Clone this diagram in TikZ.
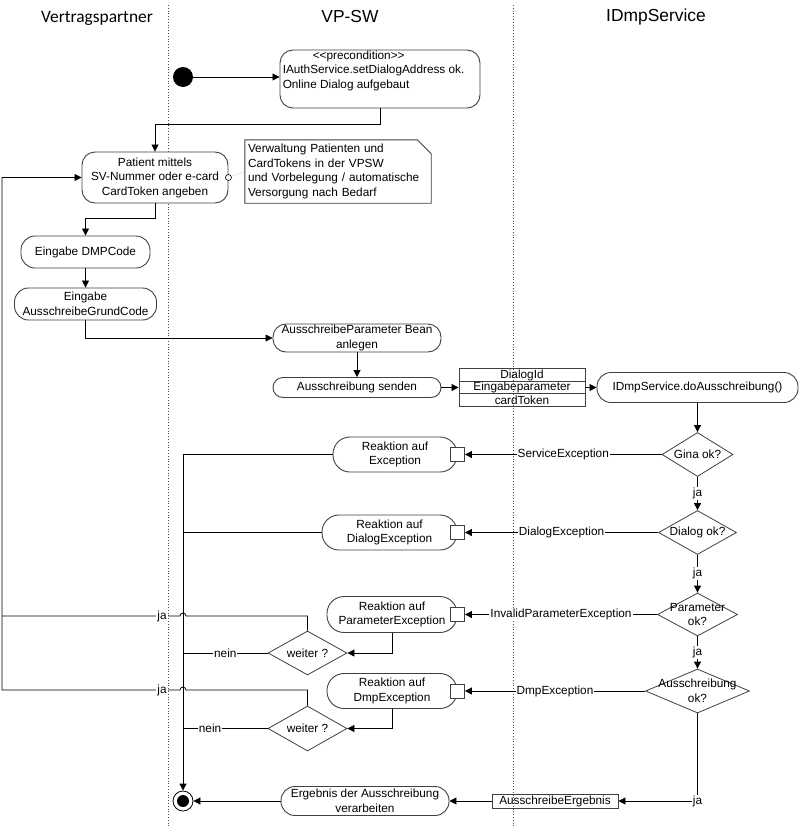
\documentclass[tikz,border=0pt]{standalone}
\usepackage{fontspec}
\setmainfont{Liberation Sans}
\newfontfamily\calibri{Carlito}
\usetikzlibrary{arrows.meta,shapes.geometric}

\begin{document}
\begin{tikzpicture}[
    x=1pt, y=-1pt,
    font=\fontsize{11.8}{14.5}\selectfont,
    >={Triangle[length=7pt,width=7pt]},
    action/.style={draw=black!75, line width=0.9pt, rounded corners=#1, fill=white, align=center, inner sep=1pt},
    action/.default=13pt,
    decision/.style={diamond, draw=black!75, line width=0.8pt, fill=white, inner sep=0pt},
    pin/.style={draw=black!75, line width=0.9pt, fill=white, minimum size=14pt, inner sep=0pt},
    objrow/.style={draw=black!75, line width=0.9pt, minimum width=126pt, minimum height=12.6pt, inner sep=0pt},
    flow/.style={->, line width=0.8pt},
    lbl/.style={fill=white, inner sep=1pt},
    lane/.style={dotted, line width=0.8pt, black!70},
    head/.style={font=\fontsize{17.4}{20}\selectfont}
]
\useasboundingbox (0,0) rectangle (799,838);

% Swimlanes
\draw[lane] (168,5) -- (168,826);
\draw[lane] (513,5) -- (513,826);
\node[font=\calibri\fontsize{17.4}{20}\selectfont] (hVP) at (97,18) {Vertragspartner};
\node[head] (hSW) at (350,17) {VP-SW};
\node[head] (hIDmp) at (656,17) {IDmpService};

% Aktionen
\node[circle, fill=black, minimum size=20pt, inner sep=0pt] (start) at (183,77) {};
\node[action, minimum width=200pt, minimum height=58pt] (pre) at (380,79) {};
\node[anchor=north west, align=left, inner sep=1pt] (preTxt) at ([xshift=2pt]pre.north west) {\hspace*{30pt}<{}<precondition>{}>\\IAuthService.setDialogAddress ok.\\Online Dialog aufgebaut};
\node[action, minimum width=146pt, minimum height=51pt] (pat) at (155,177.5) {Patient mittels\\SV-Nummer oder e-card\\CardToken angeben};
\node[text width=180pt, align=left, minimum height=63pt, inner sep=3pt] (note) at (338,171.5) {Verwaltung Patienten und\\CardTokens in der VPSW\\und Vorbelegung / automatische\\Versorgung nach Bedarf};
\draw[black!75, line width=0.9pt] (note.north west) -- ([xshift=-14pt]note.north east) -- ([yshift=-14pt]note.north east) -- (note.south east) -- (note.south west) -- cycle;
\node[action=14pt, minimum width=129pt, minimum height=32pt] (dmp) at (85.5,252) {Eingabe DMPCode};
\node[action=14pt, minimum width=142pt, minimum height=32pt] (grund) at (85.5,304) {Eingabe\\AusschreibeGrundCode};
\node[action=13pt, minimum width=168pt, minimum height=28pt, inner sep=0pt] (bean) at (357,338) {AusschreibeParameter Bean\\anlegen};
\node[action=10pt, minimum width=168pt, minimum height=20pt] (senden) at (357,387.5) {Ausschreibung senden};
\node[objrow] (dlgId) at (522,375) {DialogId};
\node[objrow] (eingabe) at (522,387.5) {Eingabeparameter};
\node[objrow] (cardTok) at (522,400) {cardToken};
\node[action=14pt, minimum width=201pt, minimum height=30pt] (ids) at (697.5,387.5) {IDmpService.doAusschreibung()};

% Entscheidungen
\node[decision, minimum width=71pt, minimum height=44pt, label=center:Gina ok?] (gina) at (697.5,454.5) {};
\node[decision, minimum width=78pt, minimum height=44pt, label=center:Dialog ok?] (dialog) at (697.5,532.5) {};
\node[decision, minimum width=80pt, minimum height=43pt, label={[align=center]center:Parameter\\ok?}] (param) at (697.5,614.5) {};
\node[decision, minimum width=104pt, minimum height=44pt, label={[align=center]center:Ausschreibung\\ok?}] (aus) at (697.5,691) {};

% Reaktionen
\node[action=17pt, minimum width=124pt, minimum height=35pt] (reS) at (395,454.5) {Reaktion auf\\Exception};
\node[action=17pt, minimum width=135pt, minimum height=35pt] (reD) at (389.5,532.5) {Reaktion auf\\DialogException};
\node[action=17pt, minimum width=130pt, minimum height=36pt] (reP) at (392,614.5) {Reaktion auf\\ParameterException};
\node[action=17pt, minimum width=130pt, minimum height=35pt] (reM) at (392,691) {Reaktion auf\\DmpException};
\node[pin] (pinS) at (reS.east) {};
\node[pin] (pinD) at (reD.east) {};
\node[pin] (pinP) at (reP.east) {};
\node[pin] (pinM) at (reM.east) {};
\node[decision, minimum width=79pt, minimum height=44pt, label=center:weiter ?] (wei1) at (307.5,653) {};
\node[decision, minimum width=79pt, minimum height=45pt, label=center:weiter ?] (wei2) at (307.5,728.5) {};

% Ergebnis
\node[objrow, minimum height=14pt] (ausErg) at (555,801) {AusschreibeErgebnis};
\node[action=14pt, minimum width=168pt, minimum height=29pt] (erg) at (365,801) {Ergebnis der Ausschreibung\\verarbeiten};
\node[circle, draw, line width=0.8pt, minimum size=20pt, inner sep=0pt] (final) at (183,801) {};
\fill (final.center) circle[radius=6pt];

% Kanten
\draw[flow] (start.east) -- (start.east -| pre.west);
\draw[flow] (pre.south) -- ++(0,16) -| (pat.north);
\draw[densely dotted, black!60] (pat.east) -- (note.west);
\draw[fill=white, line width=0.6pt] (pat.east) circle[radius=3pt];
\draw[flow] (pat.south) -- ++(0,15) -| (dmp.north);
\draw[flow] (dmp) -- (grund);
\draw[flow] (grund.south) |- (bean.west);
\draw[flow] (bean) -- (senden);
\draw[flow] (senden.east) -- (eingabe.west);
\draw[flow] (eingabe.east) -- (ids.west);
\draw[flow] (ids) -- (gina);
\draw[flow] (gina) -- node[lbl]{ja} (dialog);
\draw[flow] (dialog) -- node[lbl]{ja} (param);
\draw[flow] (param) -- node[lbl]{ja} (aus);
\draw[flow] (aus.south) |- node[lbl, pos=.5]{ja} (ausErg.east);
\draw[flow] (ausErg) -- (erg);
\draw[flow] (erg) -- (final);

\draw[flow] (gina) -- node[lbl]{ServiceException} (pinS);
\draw[flow] (dialog) -- node[lbl]{DialogException} (pinD);
\draw[flow] (param) -- node[lbl]{InvalidParameterException} (pinP);
\draw[flow] (aus) -- node[lbl]{DmpException} (pinM);

\draw[flow] (reS.west) -| (final.north);
\draw[line width=0.8pt] (reD.west) -- (reD.west -| final);
\draw[flow] (reP.south) |- (wei1.east);
\draw[flow] (reM.south) |- (wei2.east);
\draw[line width=0.8pt] (wei1.west) -- node[lbl]{nein} (wei1.west -| final);
\draw[line width=0.8pt] (wei2.west) -- node[lbl, pos=.68]{nein} (wei2.west -| final);

% zurueck zu Patient
\coordinate (hop1) at (186,616);
\coordinate (hop2) at (186,690);
\coordinate (loop) at (2,690);
\draw[line width=0.8pt] (wei1.north) |- (hop1) arc[start angle=0, end angle=180, radius=3pt] -- (162,616) node[lbl]{ja} -- (2,616);
\draw[flow] (wei2.north) |- (hop2) arc[start angle=0, end angle=180, radius=3pt] -- (162,690) node[lbl]{ja} -- (loop) |- (pat.west);
\end{tikzpicture}
\end{document}
